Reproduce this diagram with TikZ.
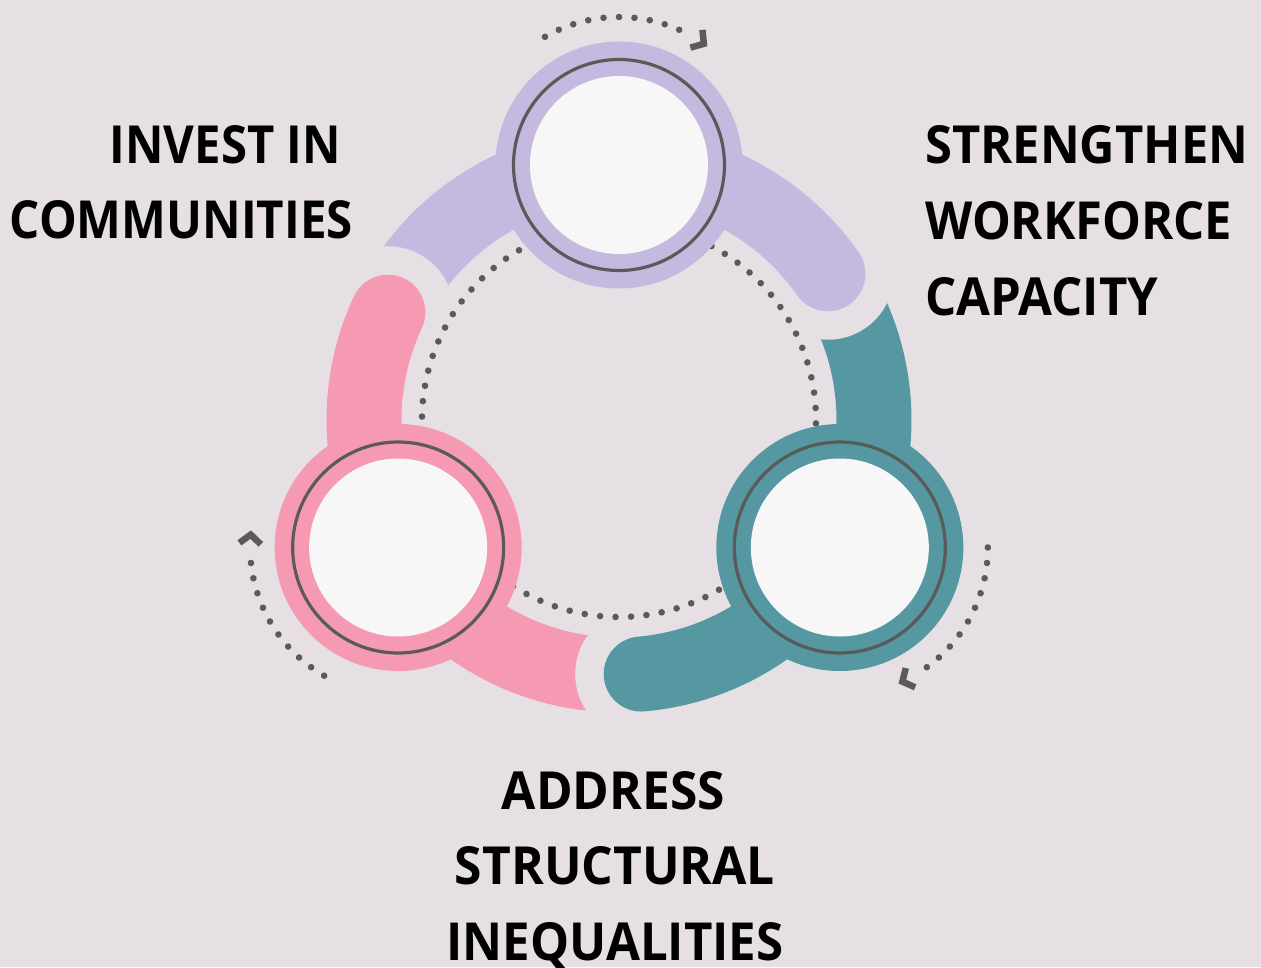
\documentclass[tikz,border=0pt]{standalone}
\usepackage{fontspec}
\usepackage{graphicx}
\setmainfont{Open Sans}
\definecolor{bgmauve}{HTML}{E6E0E4}
\definecolor{lilac}{HTML}{C5B9DF}
\definecolor{rosepink}{HTML}{F69AB4}
\definecolor{tealblue}{HTML}{5698A1}
\definecolor{innerwhite}{HTML}{F7F7F7}
\definecolor{dotgray}{HTML}{5A5A5A}
\newcommand{\cyclabel}[2]{\resizebox{#1pt}{38pt}{\bfseries #2}}
\begin{document}
\begin{tikzpicture}[x=1pt,y=1pt,
  band/.style={line width=75pt},
  capband/.style={line width=75pt, line cap=round},
  disc/.style={circle, inner sep=0pt, minimum size=247pt},
  ring/.style={circle, inner sep=0pt, draw=dotgray, line width=3.2pt, minimum size=211pt},
  face/.style={circle, inner sep=0pt, fill=innerwhite, minimum size=178pt},
  chev/.style={draw=dotgray, line width=6.5pt, miter limit=4},
  lbl/.style={inner sep=0pt, text=black}]
% canvas
\fill[bgmauve] (-619,-547) rectangle (642,420);
\useasboundingbox (-619,-547) rectangle (642,420);

% band segments that end against a neighbour's gap
\draw[band, draw=lilac] (90:255) arc[start angle=90, end angle=150, radius=255];
\draw[band, draw=tealblue] (-30:255) arc[start angle=-30, end angle=30, radius=255];
\draw[band, draw=rosepink] (210:255) arc[start angle=210, end angle=270, radius=255];

% gaps around the rounded band ends
\foreach \a in {35,-85,155}
  \fill[bgmauve] (\a:255) circle[radius=66];

% band segments with rounded ends
\draw[capband, draw=lilac] (35:255) arc[start angle=35, end angle=90, radius=255];
\draw[capband, draw=tealblue] (-85:255) arc[start angle=-85, end angle=-30, radius=255];
\draw[capband, draw=rosepink] (155:255) arc[start angle=155, end angle=210, radius=255];

% inner dotted circle
\foreach \i in {0,...,79}
  \fill[dotgray] (3.5+4.5*\i:197) circle[radius=3.3];

% the three stage discs
\node[disc, fill=lilac] (topdisc) at (90:255) {};
\node[disc, fill=tealblue] (rightdisc) at (-30:255) {};
\node[disc, fill=rosepink] (leftdisc) at (210:255) {};
\foreach \n in {topdisc,rightdisc,leftdisc} {
  \node[ring] (\n-ring) at (\n.center) {};
  \node[face] (\n-face) at (\n.center) {};
}

% outer dotted arrows, running clockwise round each disc
\foreach \ang in {90,-30,210} {
  \begin{scope}[shift={(\ang:255)}, rotate=\ang-90]
    \foreach \k in {0,...,9}
      \fill[dotgray] (120-6*\k:148) circle[radius=3.3];
    \draw[chev] (55:148) ++(196:14) -- (55:148) -- ++(96:14);
  \end{scope}
}

% labels
\node[lbl, anchor=base east] (investA) at (-278,257) {\cyclabel{231}{INVEST IN}};
\node[lbl, anchor=base east] (investB) at (-266,182) {\cyclabel{343}{COMMUNITIES}};
\node[lbl, anchor=base west] (strengthA) at (306,257) {\cyclabel{323}{STRENGTHEN}};
\node[lbl, anchor=base west] (strengthB) at (306,181) {\cyclabel{307}{WORKFORCE}};
\node[lbl, anchor=base west] (strengthC) at (306,105) {\cyclabel{233}{CAPACITY}};
\node[lbl, anchor=base] (addressA) at (-5.5,-389) {\cyclabel{223}{ADDRESS}};
\node[lbl, anchor=base] (addressB) at (-4,-464) {\cyclabel{320}{STRUCTURAL}};
\node[lbl, anchor=base] (addressC) at (-4,-540) {\cyclabel{337}{INEQUALITIES}};
\end{tikzpicture}
\end{document}
